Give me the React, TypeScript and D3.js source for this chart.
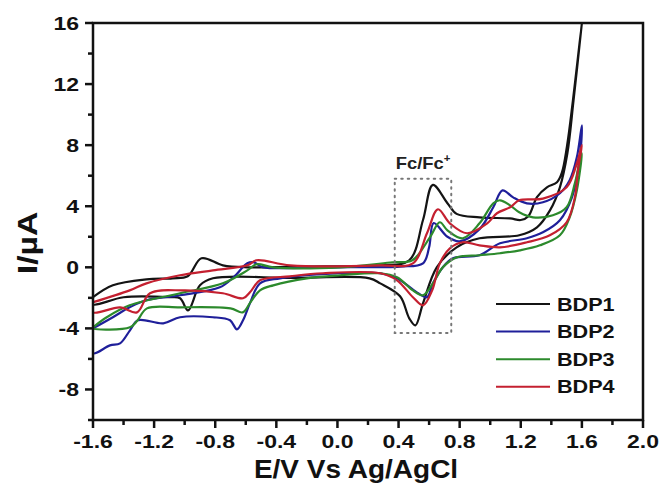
import React, { useMemo } from "react";
import * as d3 from "d3";

const WIDTH = 661;
const HEIGHT = 486;
const MARGIN = { top: 23, right: 18, bottom: 66, left: 93 };

const X_DOMAIN: [number, number] = [-1.6, 2.0];
const Y_DOMAIN: [number, number] = [-10, 16];
const X_TICKS = [-1.6, -1.2, -0.8, -0.4, 0.0, 0.4, 0.8, 1.2, 1.6, 2.0];
const X_MINOR = [-1.4, -1.0, -0.6, -0.2, 0.2, 0.6, 1.0, 1.4, 1.8];
const Y_TICKS = [-8, -4, 0, 4, 8, 12, 16];
const Y_MINOR = [-10, -6, -2, 2, 6, 10, 14];

const SERIES_NAMES = ["BDP1", "BDP2", "BDP3", "BDP4"];
const SERIES_COLORS = ["#141414", "#1f1f9a", "#2c8a2c", "#c42030"];

// each loop: forward scan (upper) then reverse scan (lower), [E, I]
const BDP1: [number, number][] = [
  [-1.6, -1.96], [-1.47, -1.18], [-1.25, -0.79], [-1.08, -0.72], [-0.98, -0.59],
  [-0.89, 0.59], [-0.75, 0.13], [-0.59, 0.0], [-0.2, 0.05], [0.28, 0.13],
  [0.47, 0.46], [0.56, 3.1], [0.625, 5.4], [0.72, 4.2], [0.78, 3.5],
  [0.93, 3.27], [1.13, 3.2], [1.2, 3.1], [1.25, 3.35], [1.306, 4.6],
  [1.371, 5.24], [1.437, 5.57], [1.469, 6.2], [1.502, 7.9], [1.541, 10.9], [1.6, 16],
  [1.545, 10.9], [1.505, 7.47], [1.456, 5.24], [1.391, 3.73], [1.306, 2.62],
  [1.19, 2.1], [0.93, 1.9], [0.78, 1.31], [0.65, 0.0], [0.56, -2.36],
  [0.51, -3.8], [0.47, -3.34], [0.41, -1.9], [0.28, -1.05], [0.21, -0.72],
  [-0.3, -0.7], [-0.815, -0.72], [-0.9, -1.18], [-0.978, -2.82], [-1.03, -2.03],
  [-1.1, -1.96], [-1.4, -1.96], [-1.6, -2.42], [-1.6, -1.96],
];

const BDP2: [number, number][] = [
  [-1.6, -4.0], [-1.47, -3.27], [-1.36, -2.62], [-1.25, -2.16], [-1.03, -1.83],
  [-0.77, -1.31], [-0.68, -0.65], [-0.59, 0.26], [-0.55, 0.33], [-0.49, 0.0],
  [-0.42, -0.05], [0.0, 0.0], [0.41, 0.05], [0.56, 0.26], [0.6, 1.31],
  [0.63, 2.9], [0.72, 2.0], [0.8, 1.7], [0.93, 2.5], [1.02, 3.93],
  [1.08, 5.04], [1.15, 4.58], [1.24, 4.19], [1.345, 4.26], [1.456, 4.85],
  [1.52, 5.7], [1.567, 7.2], [1.6, 9.3],
  [1.585, 7.0], [1.535, 4.58], [1.456, 3.08], [1.345, 2.29], [1.24, 1.9],
  [1.064, 1.57], [0.93, 0.79], [0.756, 0.59], [0.69, 0.0], [0.625, -1.05],
  [0.586, -1.96], [0.52, -1.64], [0.39, -0.72], [0.28, -0.39], [0.017, -0.39],
  [-0.376, -0.72], [-0.507, -1.05], [-0.573, -2.36], [-0.618, -3.47], [-0.658, -4.06],
  [-0.703, -3.47], [-0.815, -3.27], [-1.03, -3.27], [-1.14, -3.67], [-1.306, -3.47],
  [-1.358, -4.13], [-1.423, -4.98], [-1.489, -5.11], [-1.6, -5.63], [-1.6, -4.0],
];

const BDP3: [number, number][] = [
  [-1.6, -3.93], [-1.51, -3.27], [-1.36, -2.49], [-1.03, -1.7], [-0.75, -1.05],
  [-0.59, -0.2], [-0.53, 0.2], [-0.42, 0.0], [0.017, 0.0], [0.36, 0.33],
  [0.49, 0.46], [0.605, 1.96], [0.67, 2.95], [0.72, 2.42], [0.82, 1.9],
  [0.93, 2.88], [1.02, 4.19], [1.064, 4.39], [1.13, 4.06], [1.19, 3.6],
  [1.28, 3.27], [1.41, 3.41], [1.5, 3.93], [1.554, 5.5], [1.587, 7.0], [1.6, 7.47],
  [1.567, 5.04], [1.52, 3.27], [1.456, 2.1], [1.325, 1.44], [1.194, 1.11],
  [1.064, 0.92], [0.93, 0.79], [0.78, 0.65], [0.69, 0.0], [0.625, -1.05],
  [0.56, -1.83], [0.494, -1.51], [0.39, -0.65], [0.28, -0.39], [0.017, -0.52],
  [-0.2, -0.72], [-0.42, -1.18], [-0.507, -1.51], [-0.57, -2.3], [-0.62, -2.95],
  [-0.7, -2.69], [-1.03, -2.62], [-1.247, -2.69], [-1.31, -3.5], [-1.358, -3.93],
  [-1.6, -4.0], [-1.6, -3.93],
];

const BDP4: [number, number][] = [
  [-1.6, -2.29], [-1.36, -1.51], [-1.25, -1.05], [-1.03, -0.52], [-0.815, -0.2],
  [-0.59, 0.13], [-0.53, 0.46], [-0.31, 0.13], [0.28, 0.13], [0.494, 0.26],
  [0.586, 2.23], [0.658, 3.8], [0.736, 2.88], [0.848, 2.23], [0.98, 2.88],
  [1.044, 3.54], [1.13, 3.93], [1.19, 4.39], [1.345, 4.5], [1.5, 5.24],
  [1.567, 6.8], [1.6, 8.0],
  [1.574, 6.35], [1.554, 4.58], [1.5, 2.95], [1.39, 2.1], [1.24, 1.64],
  [1.064, 1.31], [0.93, 1.44], [0.82, 1.64], [0.736, 1.24], [0.67, 0.26],
  [0.62, -1.51], [0.56, -2.49], [0.494, -1.96], [0.39, -0.85], [0.28, -0.39],
  [-0.095, -0.39], [-0.31, -0.59], [-0.507, -0.85], [-0.57, -1.6], [-0.618, -2.03],
  [-0.75, -1.7], [-1.01, -1.51], [-1.227, -1.7], [-1.312, -2.95], [-1.423, -2.62],
  [-1.6, -2.95], [-1.6, -2.29],
];

const SERIES = [BDP1, BDP2, BDP3, BDP4];

// Fc/Fc+ dotted box, in data units
const FC_BOX = { e0: 0.375, e1: 0.745, i0: -4.3, i1: 5.8 };

const FONT = "'Liberation Sans', Arial, sans-serif";

// the original's lettering is a bit wider than Arial, so stretch it horizontally
const WideText = ({ x, y, sx = 1.28, anchor = "start", size = 18, rotate = 0, children }: any) => (
  <text
    transform={`translate(${x},${y}) rotate(${rotate}) scale(${sx},1)`}
    textAnchor={anchor}
    fontFamily={FONT}
    fontWeight="bold"
    fontSize={size}
    fill="#111"
  >
    {children}
  </text>
);

const App = () => {
  const plotW = WIDTH - MARGIN.left - MARGIN.right;
  const plotH = HEIGHT - MARGIN.top - MARGIN.bottom;

  const xScale = useMemo(
    () => d3.scaleLinear().domain(X_DOMAIN).range([MARGIN.left, MARGIN.left + plotW]),
    [plotW]
  );
  const yScale = useMemo(
    () => d3.scaleLinear().domain(Y_DOMAIN).range([MARGIN.top + plotH, MARGIN.top]),
    [plotH]
  );

  const line = d3
    .line<[number, number]>()
    .x((d) => xScale(d[0]))
    .y((d) => yScale(d[1]))
    .curve(d3.curveCatmullRom.alpha(0.5));

  const x0 = MARGIN.left;
  const x1 = MARGIN.left + plotW;
  const y0 = MARGIN.top + plotH;
  const y1 = MARGIN.top;

  return (
    <div style={{ position: "absolute", left: 0, top: 0 }}>
      <svg width={WIDTH} height={HEIGHT} style={{ display: "block", background: "#fff" }}>
        <defs>
          <clipPath id="plot-clip">
            <rect x={x0} y={y1 - 1} width={plotW} height={plotH + 1} />
          </clipPath>
        </defs>

        {/* curves */}
        <g clipPath="url(#plot-clip)">
          {SERIES.map((s, i) => (
            <path
              key={SERIES_NAMES[i]}
              d={line(s) || ""}
              fill="none"
              stroke={SERIES_COLORS[i]}
              strokeWidth={2.2}
              strokeLinejoin="round"
            />
          ))}
        </g>

        {/* Fc box */}
        <rect
          x={xScale(FC_BOX.e0)}
          y={yScale(FC_BOX.i1)}
          width={xScale(FC_BOX.e1) - xScale(FC_BOX.e0)}
          height={yScale(FC_BOX.i0) - yScale(FC_BOX.i1)}
          fill="none"
          stroke="#777"
          strokeWidth={2}
          strokeDasharray="1.5,5"
          strokeLinecap="round"
        />
        <text
          transform={`translate(${xScale(FC_BOX.e0) + 1},${yScale(FC_BOX.i1) - 10}) scale(1.15,1)`}
          fontFamily={FONT}
          fontWeight="bold"
          fontSize={16}
          fill="#222"
        >
          Fc/Fc
          <tspan fontSize={10} dy={-7}>+</tspan>
        </text>

        {/* frame */}
        <rect
          x={x0}
          y={y1}
          width={plotW}
          height={plotH}
          fill="none"
          stroke="#111"
          strokeWidth={2.5}
        />

        {/* x ticks */}
        {X_TICKS.map((t) => (
          <g key={"xt" + t}>
            <line x1={xScale(t)} x2={xScale(t)} y1={y0} y2={y0 + 8} stroke="#111" strokeWidth={2.5} />
            <WideText x={xScale(t)} y={y0 + 28} anchor="middle">
              {t.toFixed(1)}
            </WideText>
          </g>
        ))}
        {X_MINOR.map((t) => (
          <line key={"xm" + t} x1={xScale(t)} x2={xScale(t)} y1={y0} y2={y0 + 5} stroke="#111" strokeWidth={2.5} />
        ))}

        {/* y ticks */}
        {Y_TICKS.map((t) => (
          <g key={"yt" + t}>
            <line x1={x0 - 8} x2={x0} y1={yScale(t)} y2={yScale(t)} stroke="#111" strokeWidth={2.5} />
            <WideText x={x0 - 14} y={yScale(t) + 6.5} anchor="end">
              {t}
            </WideText>
          </g>
        ))}
        {Y_MINOR.map((t) => (
          <line key={"ym" + t} x1={x0 - 5} x2={x0} y1={yScale(t)} y2={yScale(t)} stroke="#111" strokeWidth={2.5} />
        ))}

        {/* axis titles */}
        <WideText x={356} y={478} anchor="middle" size={25} sx={1.12}>
          E/V Vs Ag/AgCl
        </WideText>
        <WideText x={37} y={yScale(1.6)} anchor="middle" size={27} sx={1.25} rotate={-90}>
          I/µA
        </WideText>

        {/* legend */}
        {SERIES_NAMES.map((name, i) => {
          const ly = 304 + i * 27.6;
          return (
            <g key={"lg" + name}>
              <line x1={496} x2={550} y1={ly} y2={ly} stroke={SERIES_COLORS[i]} strokeWidth={2} />
              <WideText x={557} y={ly + 6.5} sx={1.2}>
                {name}
              </WideText>
            </g>
          );
        })}
      </svg>
    </div>
  );
};

export default App;
